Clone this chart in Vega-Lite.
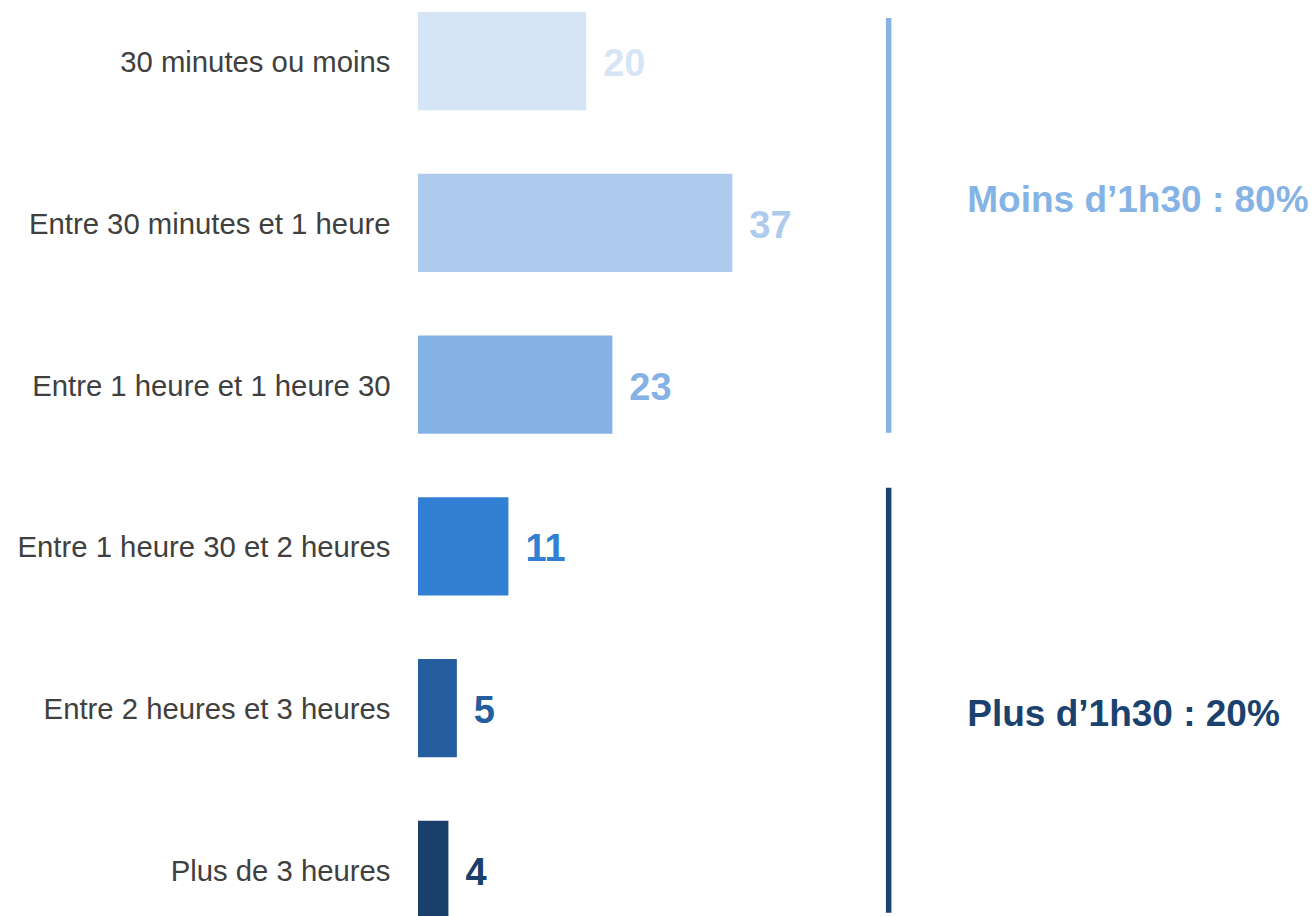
{
  "$schema": "https://vega.github.io/schema/vega-lite/v6.json",
  "width": 845,
  "height": 907,
  "autosize": {"type": "none"},
  "padding": {"left": 418, "top": 12, "right": 50, "bottom": 0},
  "background": "white",
  "config": {"view": {"stroke": null}, "font": "Liberation Sans"},
  "datasets": {
    "barres": [
      {"categorie": "30 minutes ou moins", "valeur": 19.9, "etiquette": "20"},
      {"categorie": "Entre 30 minutes et 1 heure", "valeur": 37.2, "etiquette": "37"},
      {"categorie": "Entre 1 heure et 1 heure 30", "valeur": 23.0, "etiquette": "23"},
      {"categorie": "Entre 1 heure 30 et 2 heures", "valeur": 10.7, "etiquette": "11"},
      {"categorie": "Entre 2 heures et 3 heures", "valeur": 4.6, "etiquette": "5"},
      {"categorie": "Plus de 3 heures", "valeur": 3.6, "etiquette": "4"}
    ],
    "groupes": [
      {"groupe": "moins", "texte": "Moins d’1h30 : 80%", "debut": "30 minutes ou moins", "fin": "Entre 1 heure et 1 heure 30", "ancre": "Entre 30 minutes et 1 heure"},
      {"groupe": "plus", "texte": "Plus d’1h30 : 20%", "debut": "Entre 1 heure 30 et 2 heures", "fin": "Plus de 3 heures", "ancre": "Entre 2 heures et 3 heures"}
    ]
  },
  "layer": [
    {
      "data": {"name": "barres"},
      "mark": {"type": "bar"},
      "encoding": {
        "y": {
          "field": "categorie",
          "type": "nominal",
          "sort": null,
          "scale": {
            "domain": ["30 minutes ou moins", "Entre 30 minutes et 1 heure", "Entre 1 heure et 1 heure 30", "Entre 1 heure 30 et 2 heures", "Entre 2 heures et 3 heures", "Plus de 3 heures"],
            "paddingInner": 0.3925,
            "paddingOuter": 0
          },
          "axis": {
            "title": null,
            "ticks": false,
            "domain": false,
            "labelPadding": 28,
            "labelOffset": 2,
            "labelFontSize": 29.3,
            "labelColor": "#404040",
            "labelFont": "Liberation Sans",
            "labelLimit": 0
          }
        },
        "x": {"field": "valeur", "type": "quantitative", "scale": {"domain": [0, 100], "nice": false}, "axis": null},
        "color": {
          "field": "categorie",
          "type": "nominal",
          "sort": null,
          "scale": {
            "domain": ["30 minutes ou moins", "Entre 30 minutes et 1 heure", "Entre 1 heure et 1 heure 30", "Entre 1 heure 30 et 2 heures", "Entre 2 heures et 3 heures", "Plus de 3 heures"],
            "range": ["#d6e5f5", "#aecbee", "#85b2e4", "#3280d4", "#245e9f", "#1a3f6b"]
          },
          "legend": null
        }
      }
    },
    {
      "data": {"name": "barres"},
      "mark": {"type": "text", "align": "left", "baseline": "middle", "dx": 17, "dy": 4, "fontSize": 38, "fontWeight": "bold", "font": "Liberation Sans"},
      "encoding": {
        "y": {"field": "categorie", "type": "nominal", "sort": null},
        "x": {"field": "valeur", "type": "quantitative"},
        "text": {"field": "etiquette"},
        "color": {"field": "categorie", "type": "nominal", "sort": null, "legend": null}
      }
    },
    {
      "data": {"name": "groupes"},
      "transform": [{"filter": "datum.groupe === 'moins'"}],
      "layer": [
        {
          "mark": {"type": "rule", "strokeWidth": 5.5, "color": "#85b3e5"},
          "encoding": {
            "x": {"datum": 55.7, "type": "quantitative"},
            "y": {"field": "debut", "type": "nominal", "bandPosition": 0.061},
            "y2": {"field": "fin", "bandPosition": 0.99}
          }
        },
        {
          "mark": {"type": "text", "align": "left", "baseline": "alphabetic", "fontSize": 37, "fontWeight": "bold", "color": "#85b3e5", "font": "Liberation Sans"},
          "encoding": {
            "x": {"datum": 65, "type": "quantitative"},
            "y": {"field": "ancre", "type": "nominal", "bandPosition": 0.389},
            "text": {"field": "texte"}
          }
        }
      ]
    },
    {
      "data": {"name": "groupes"},
      "transform": [{"filter": "datum.groupe === 'plus'"}],
      "layer": [
        {
          "mark": {"type": "rule", "strokeWidth": 5.5, "color": "#1b416e"},
          "encoding": {
            "x": {"datum": 55.7, "type": "quantitative"},
            "y": {"field": "debut", "type": "nominal", "bandPosition": -0.096},
            "y2": {"field": "fin", "bandPosition": 0.936}
          }
        },
        {
          "mark": {"type": "text", "align": "left", "baseline": "alphabetic", "fontSize": 37, "fontWeight": "bold", "color": "#1b416e", "font": "Liberation Sans"},
          "encoding": {
            "x": {"datum": 65, "type": "quantitative"},
            "y": {"field": "ancre", "type": "nominal", "bandPosition": 0.68},
            "text": {"field": "texte"}
          }
        }
      ]
    }
  ]
}
